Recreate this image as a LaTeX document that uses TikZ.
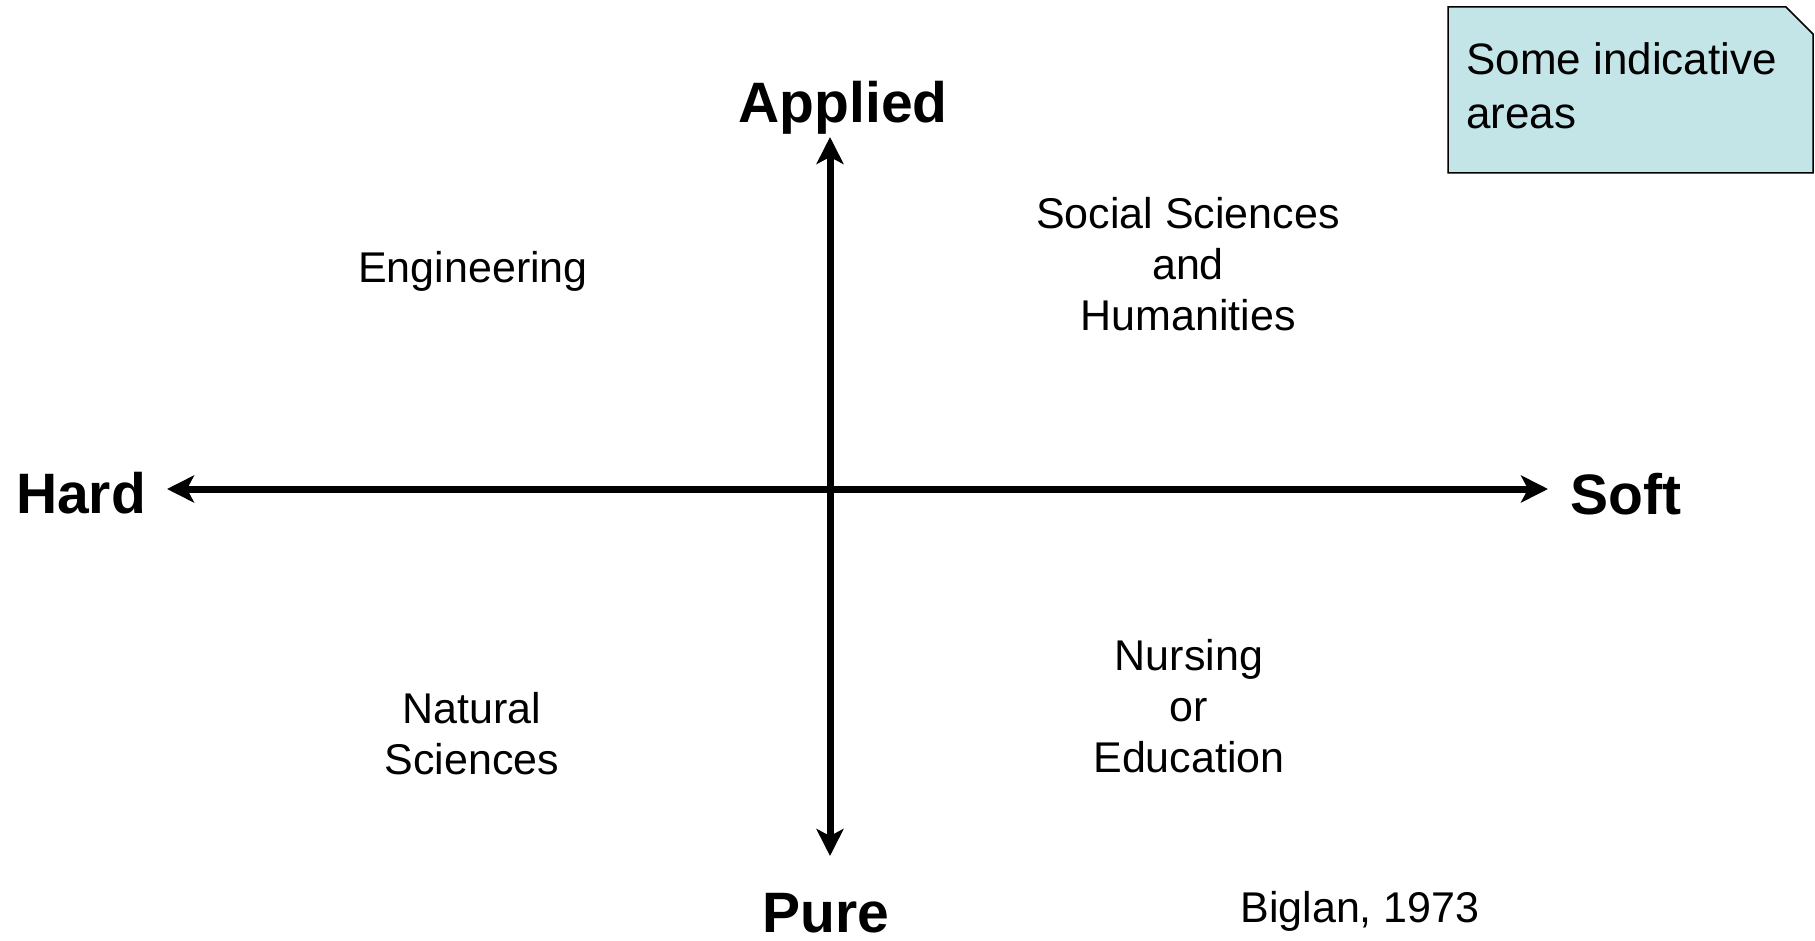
\documentclass[tikz,border=0pt]{standalone}
\usepackage{fontspec}
\setmainfont{Liberation Sans}
\usetikzlibrary{arrows.meta}
\definecolor{notefill}{RGB}{196,229,232}
\newcommand{\bigstack}[1]{\begin{tabular}[t]{@{}c@{}}#1\end{tabular}}
\begin{document}
\begin{tikzpicture}[x=1pt,y=-1pt,
  axislabel/.style={inner sep=0pt,anchor=base,font=\fontsize{57}{66}\selectfont\bfseries},
  arealabel/.style={inner sep=0pt,anchor=base,font=\fontsize{43}{51}\selectfont},
  axisline/.style={line width=7pt,{Stealth[length=27pt,width=27pt,inset=7pt]}-{Stealth[length=27pt,width=27pt,inset=7pt]}},
  noteshape/.style={draw=black,line width=1.5pt,fill=notefill,line join=miter}]
\useasboundingbox (0,0) rectangle (1815,941);

% axis end points
\coordinate (hardend) at (167,489);
\coordinate (softend) at (1548,489);
\coordinate (append) at (830,137);
\coordinate (pureend) at (830,856);

% the two axes
\draw[axisline] (hardend) -- (softend);
\draw[axisline] (pureend) -- (append);

% axis labels
\node[axislabel] (applied) at (843,123) {Applied};
\node[axislabel] (pure) at (826,932) {Pure};
\node[axislabel] (hard) at (81,513) {Hard};
\node[axislabel] (soft) at (1626,514) {Soft};

% quadrant labels
\node[arealabel] (eng) at (473,283) {Engineering};
\node[arealabel] (social) at (1188,229) {\bigstack{Social Sciences\\and\\Humanities}};
\node[arealabel] (natural) at (472,723) {\bigstack{Natural\\Sciences}};
\node[arealabel] (nursing) at (1189,670) {\bigstack{Nursing\\or\\Education}};
\node[arealabel] (source) at (1360,922) {Biglan, 1973};

% note box with a folded top-right corner
\coordinate (nw) at (1448,7);
\coordinate (fold1) at (1786,7);
\coordinate (fold2) at (1813,34);
\coordinate (se) at (1813,173);
\coordinate (sw) at (1448,173);
\draw[noteshape] (nw) -- (fold1) -- (fold2) -- (se) -- (sw) -- cycle;
\node[inner sep=0pt,anchor=base west,font=\fontsize{44}{54}\selectfont] (note) at (1466,75)
  {\begin{tabular}[t]{@{}l@{}}Some indicative\\areas\end{tabular}};
\end{tikzpicture}
\end{document}
